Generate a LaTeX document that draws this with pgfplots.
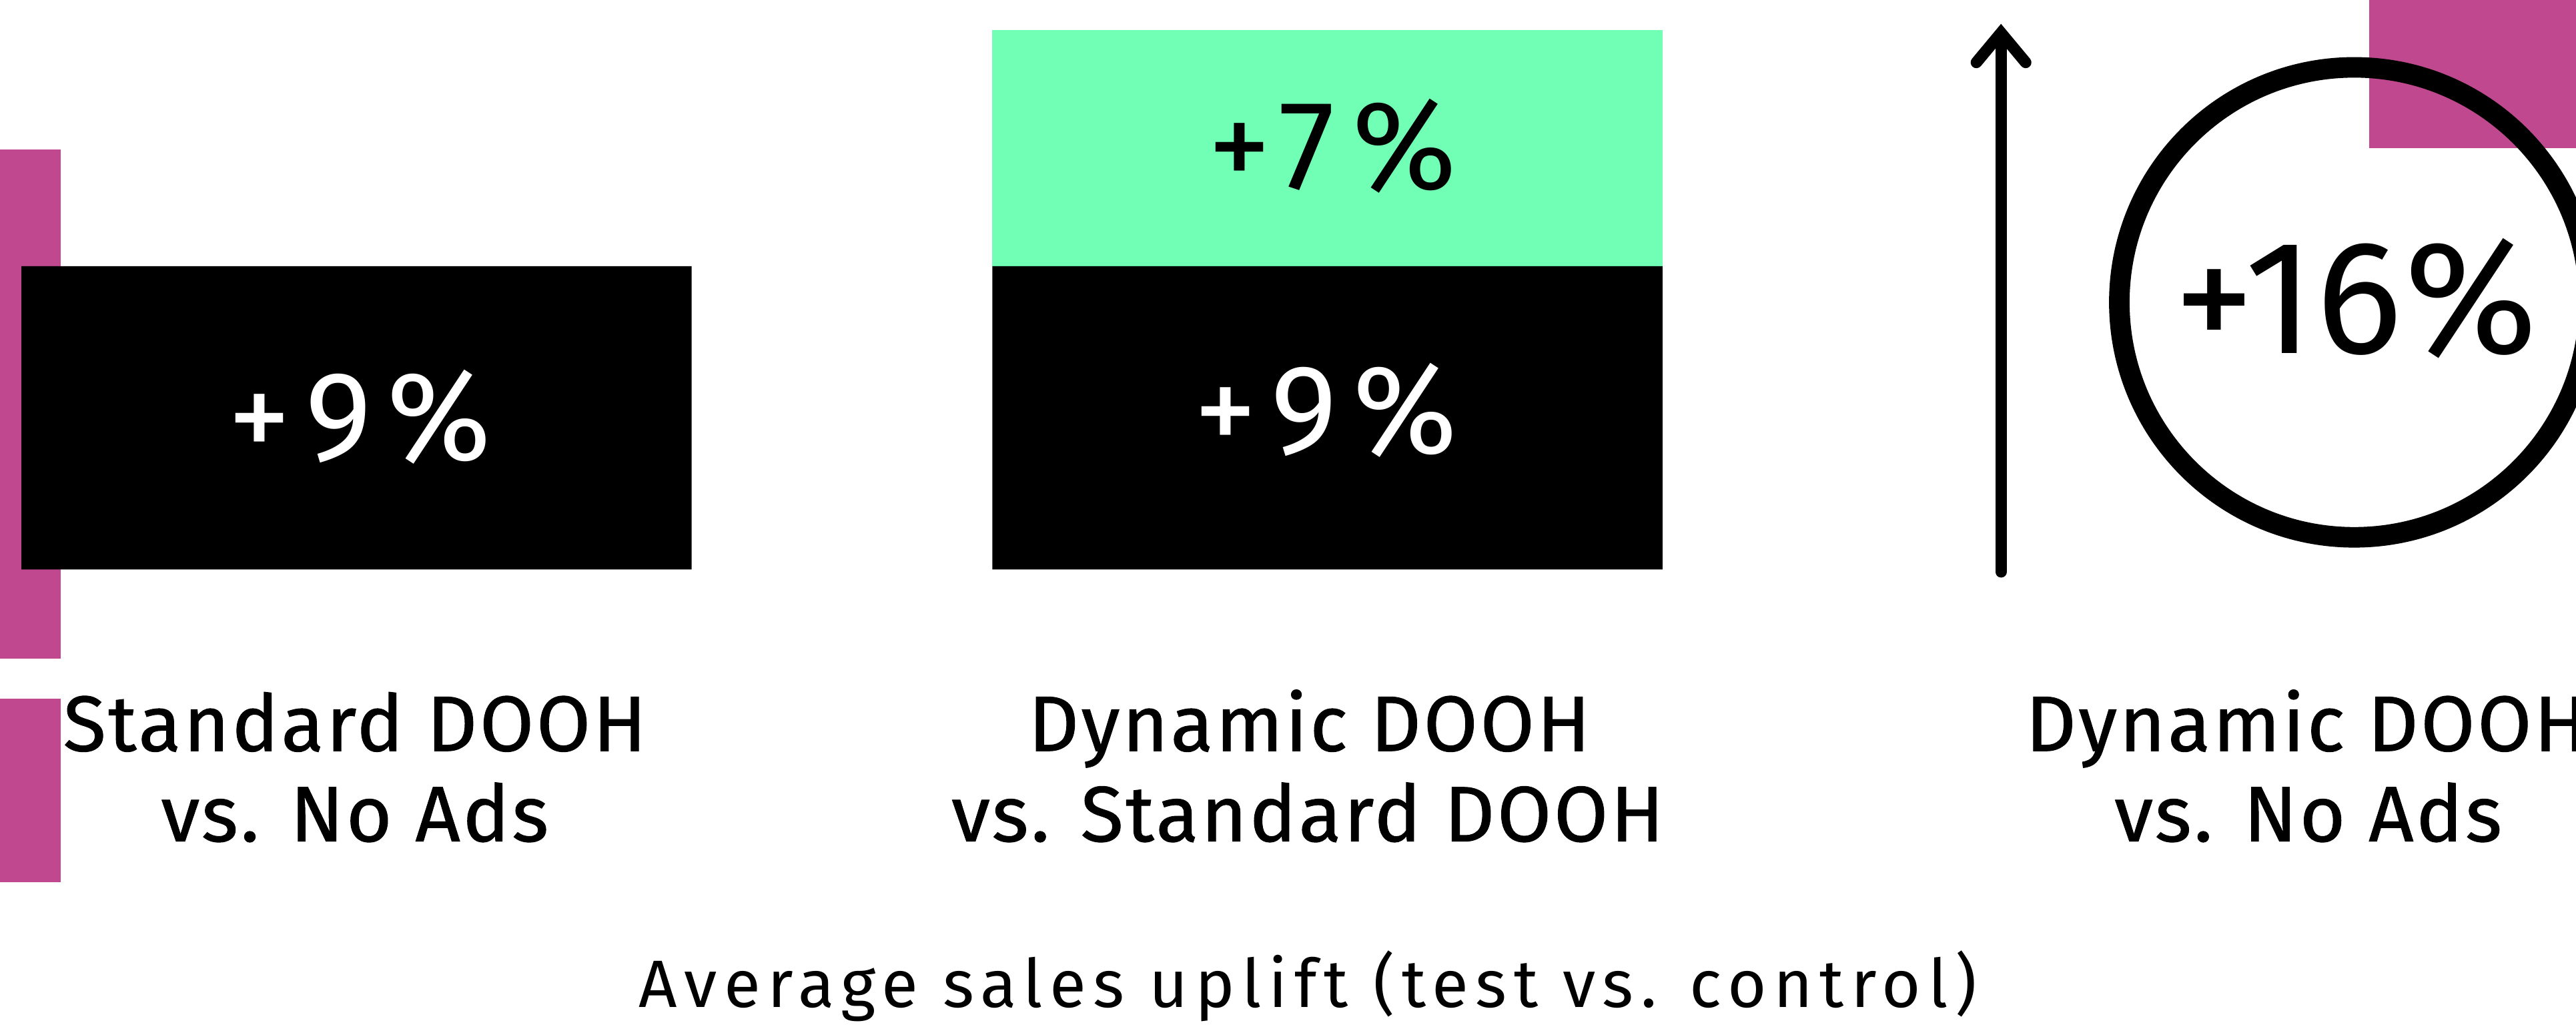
\documentclass[border=0pt]{standalone}
\usepackage{pgfplots}
\pgfplotsset{compat=1.18}
\usepackage{fontspec}
\setmainfont{Fira Sans}
\newfontfamily\catfam{Fira Sans}[FakeBold=0.8, LetterSpace=3]
\newfontfamily\numfam{Fira Sans}[LetterSpace=12]
\newfontfamily\bignumfam{Fira Sans}[LetterSpace=1]
\newfontfamily\titlefam{Fira Sans}[LetterSpace=10.5]
\definecolor{mag}{HTML}{C0488F}
\definecolor{mint}{HTML}{70FFB4}
\pgfplotsset{canvas/.style={width=156.8mm,height=62.6mm,scale only axis,hide axis,clip=false,
  xmin=0,xmax=1568,at={(0,0)},anchor=south west}}
\newcommand{\catfont}{\catfam\fontsize{13.6}{16}\selectfont}
\newcommand{\numfont}{\numfam\fontsize{22}{24}\selectfont}
\begin{document}
\begin{tikzpicture}
\useasboundingbox (0,0) rectangle (156.8mm,62.6mm);
\clip (0,0) rectangle (156.8mm,62.6mm);
% background decorations (pixel coordinates, y downwards)
\begin{axis}[canvas, y dir=reverse, ymin=0, ymax=626]
\addplot[fill=mag, draw=none] coordinates {(-5,91)(37,91)(37,401)(-5,401)} --cycle;
\addplot[fill=mag, draw=none] coordinates {(-5,425)(37,425)(37,537)(-5,537)} --cycle;
\addplot[fill=mag, draw=none] coordinates {(1442,-5)(1575,-5)(1575,90)(1442,90)} --cycle;
\end{axis}
% bars (values in percent)
\begin{axis}[canvas, ymin=-13.63, ymax=16.90, ybar stacked, bar width=408]
\addplot[fill=black, draw=none] coordinates {(217,9) (808,9)};
\addplot[fill=mint, draw=none] coordinates {(808,7)};
\end{axis}
% foreground (pixel coordinates, y downwards)
\begin{axis}[canvas, y dir=reverse, ymin=0, ymax=626]
\addplot[black, line width=0.7mm, line cap=round] coordinates {(1218,348) (1218,22)};
\addplot[black, line width=0.7mm, line cap=round, line join=miter] coordinates {(1203,38) (1218,20) (1233,38)};
\addplot[black, only marks, mark=o, mark size=14.3mm, mark options={draw=black, line width=1.25mm}] coordinates {(1433,184)};
\node[anchor=base, text=white, font=\numfont] at (axis cs:219,280) {+9\%};
\node[anchor=base, text=white, font=\numfont] at (axis cs:807,276) {+9\%};
\node[anchor=base, text=black, font=\numfont] at (axis cs:811,115) {+7\%};
\node[anchor=base, text=black, font=\bignumfam\fontsize{28}{30}\selectfont] at (axis cs:1434,215) {+16\%};
\node[anchor=base, font=\catfont] at (axis cs:216,457) {Standard DOOH};
\node[anchor=base, font=\catfont] at (axis cs:216,512) {vs. No Ads};
\node[anchor=base, font=\catfont] at (axis cs:797,457) {Dynamic DOOH};
\node[anchor=base, font=\catfont] at (axis cs:796,512) {vs. Standard DOOH};
\node[anchor=base, font=\catfont] at (axis cs:1404,457) {Dynamic DOOH};
\node[anchor=base, font=\catfont] at (axis cs:1405,512) {vs. No Ads};
\node[anchor=base, font=\titlefam\fontsize{11.6}{14}\selectfont] at (axis cs:796,613) {Average sales uplift (test vs. control)};
\end{axis}
\end{tikzpicture}
\end{document}
